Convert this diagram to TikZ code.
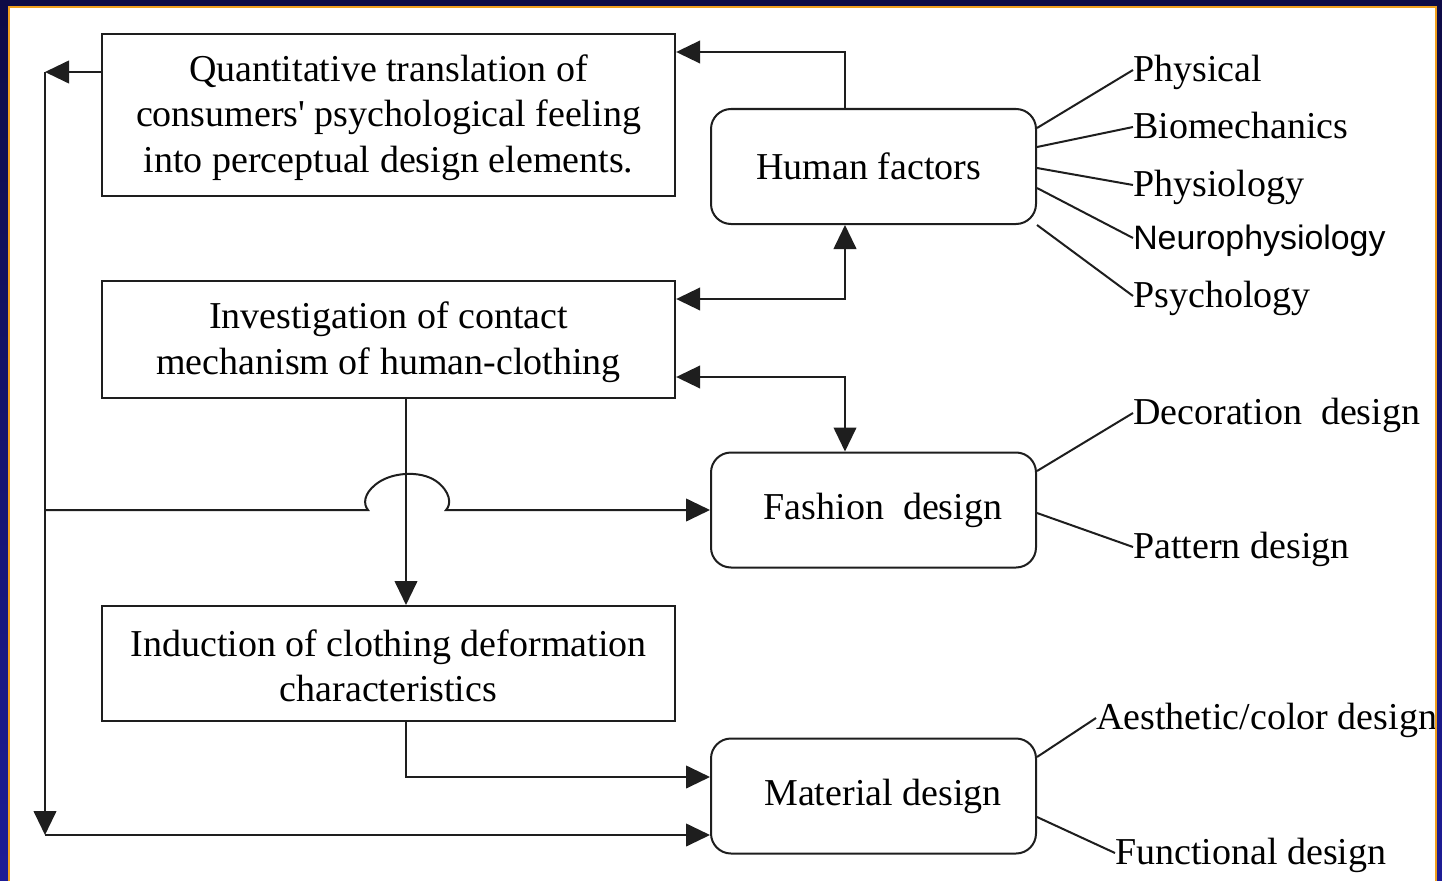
\documentclass[tikz,border=0pt]{standalone}
\usepackage{fontspec}
\setmainfont{Liberation Serif}
\newfontfamily\arialfont{Liberation Sans}
\usepackage{tikz}
\usetikzlibrary{arrows.meta,calc}

\definecolor{frametop}{RGB}{14,11,70}
\definecolor{framebot}{RGB}{30,28,150}
\definecolor{frameline}{RGB}{240,160,30}
\definecolor{ink}{RGB}{30,30,30}

\begin{document}
\begin{tikzpicture}[x=0.75pt,y=0.75pt,yscale=-1,xscale=1,
    every node/.style={font=\fontsize{28.5}{34}\selectfont},
    sqbox/.style={draw=ink,line width=1.5pt,fill=white,align=center,inner sep=0pt,minimum width=430pt},
    rbox/.style={draw=ink,line width=1.5pt,fill=white,rounded corners=15pt,inner sep=0pt,minimum width=243.75pt,minimum height=86.25pt},
    leaf/.style={anchor=west,inner sep=0pt,text height=23pt,text depth=6pt},
    link/.style={draw=ink,line width=1.5pt},
    arr/.style={link,-{Triangle[length=18pt,width=17pt]}},
    darr/.style={link,{Triangle[length=18pt,width=17pt]}-{Triangle[length=18pt,width=17pt]}}]
        \useasboundingbox (0,0) rectangle (1442,881);
        %Shape: Frame
        \shade[top color=frametop,bottom color=framebot] (0,0) rectangle (1442,881);
        \fill[white] (9,7) rectangle (1436,890);
        \begin{scope}
        \clip (9,7) rectangle (1436,890);
        %Shape: Rectangle
        \node[sqbox,minimum height=121.5pt] (quant) at (388.5,115) {\rule{0pt}{24pt}Quantitative translation of\\consumers\textquotesingle\ psychological feeling\\into perceptual design elements.};
        %Shape: Rectangle
        \node[sqbox,minimum height=87.75pt] (contact) at (388.5,339.5) {\rule{0pt}{24pt}Investigation of contact\\mechanism of human-clothing};
        %Shape: Rectangle
        \node[sqbox,minimum height=86.25pt] (deform) at (388.5,663.5) {\rule{0pt}{24pt}Induction of clothing deformation\\characteristics};
        %Shape: Rounded Rect
        \node[rbox] (human) at (873.5,166.5) {Human factors\ \ };
        %Shape: Rounded Rect
        \node[rbox] (fashion) at (873.5,510) {\ \ Fashion\ \ design};
        %Shape: Rounded Rect
        \node[rbox] (material) at (873.5,796) {\ \ Material design};
        % Text Node
        \node[leaf] (physical) at (1133,70) {Physical};
        \node[leaf] (biomech) at (1133,127) {Biomechanics};
        \node[leaf] (physio) at (1133,185) {Physiology};
        \node[leaf,font=\arialfont\fontsize{25.4}{30}\selectfont] (neuro) at (1133,238) {Neurophysiology};
        \node[leaf] (psycho) at (1133,296) {Psychology};
        \node[leaf] (decor) at (1133,413) {Decoration\ \ design};
        \node[leaf] (pattern) at (1133,547) {Pattern design};
        \node[leaf] (aesth) at (1096,718) {Aesthetic/color design};
        \node[leaf] (func) at (1115,853) {Functional design};
        %Straight Lines
        \coordinate (lft) at (45,72);
        \coordinate (btm) at (45,835);
        \coordinate (vx) at (845,52);
        \coordinate (vy1) at (845,299);
        \coordinate (vy2) at (845,377);
        \coordinate (cx) at (406,777);
        \coordinate (hop) at (cx |- fashion.west);
        \draw[arr] (quant.west |- lft) -- (lft);
        \draw[arr] (lft) -- (btm);
        \draw[arr] (btm) -- (material.west |- btm);
        \draw[arr] (lft |- fashion.west) -- ($(hop)+(-38,0)$)
            .. controls ($(hop)+(-43,-6)$) and ($(hop)+(-42,-16)$) .. ($(hop)+(-31,-25)$)
            .. controls ($(hop)+(-16,-38)$) and ($(hop)+(14,-40)$) .. ($(hop)+(30,-29)$)
            .. controls ($(hop)+(44,-19)$) and ($(hop)+(46,-6)$) .. ($(hop)+(40,0)$) -- (fashion.west);
        \draw[arr] (vx |- human.north) -- (vx) -- (quant.east |- vx);
        \draw[darr] (contact.east |- vy1) -- (vy1) -- (vx |- human.south);
        \draw[darr] (contact.east |- vy2) -- (vy2) -- (vx |- fashion.north);
        \draw[arr] (cx |- contact.south) -- (cx |- deform.north);
        \draw[arr] (cx |- deform.south) -- (cx) -- (material.west |- cx);
        %Straight Lines
        \draw[link] ($(human.east)+(0,-38.5)$) -- (physical.west);
        \draw[link] ($(human.east)+(0,-19.5)$) -- (biomech.west);
        \draw[link] ($(human.east)+(0,1.5)$) -- (physio.west);
        \draw[link] ($(human.east)+(0,21.5)$) -- (neuro.west);
        \draw[link] (human.south east) -- (psycho.west);
        \draw[link] ($(fashion.east)+(0,-39)$) -- (decor.west);
        \draw[link] ($(fashion.east)+(0,3)$) -- (pattern.west);
        \draw[link] ($(material.east)+(0,-39)$) -- (aesth.west);
        \draw[link] ($(material.east)+(0,21)$) -- (func.west);
        \end{scope}
        \draw[frameline,line width=1.2pt] (9,890) -- (9,7) -- (1436,7) -- (1436,890);
\end{tikzpicture}
\end{document}
